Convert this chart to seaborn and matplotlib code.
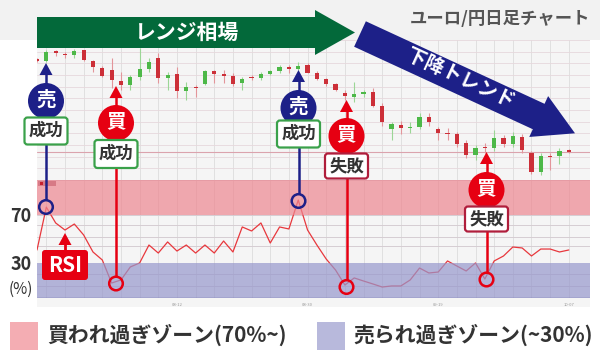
import numpy as np
import pandas as pd
import matplotlib
matplotlib.use("Agg")
import matplotlib.pyplot as plt
import seaborn as sns
from matplotlib.patches import Rectangle, Polygon, Circle, FancyBboxPatch

# ---------------- data ----------------
candle_idx = list(range(58))
opens = [144.05, 143.93, 144.85, 144.6, 144.5, 145.0, 143.93, 143.23, 143.0, 141.9,
         141.5, 142.27, 143.1, 144.17, 142.17, 142.57, 140.93, 141.3, 141.6, 142.9,
         142.55, 142.4, 141.67, 142.28, 142.17, 142.63, 142.9, 143.27, 143.13, 143.47,
         142.73, 142.07, 141.6, 140.73, 140.33, 140.65, 140.82, 139.43, 137.08, 137.5,
         137.2, 137.3, 138.33, 137.07, 136.72, 136.62, 135.67, 134.5, 135.3, 135.2,
         136.22, 135.62, 136.33, 134.73, 132.83, 134.4, 134.37, 134.95]
closes = [143.95, 144.83, 144.75, 144.5, 144.9, 144.0, 143.33, 142.43, 142.0, 141.5,
          142.27, 143.07, 143.83, 142.17, 142.5, 140.93, 141.33, 141.2, 142.9, 142.57,
          142.45, 141.65, 142.1, 142.18, 142.57, 142.9, 143.3, 143.07, 143.4, 142.75,
          142.08, 141.58, 141.0, 140.37, 140.63, 140.77, 139.45, 137.77, 137.57, 137.17,
          137.33, 138.33, 137.83, 136.73, 136.62, 135.6, 134.53, 135.17, 135.2, 136.22,
          135.63, 136.37, 135.03, 132.83, 134.37, 134.3, 134.87, 134.85]
highs = [144.2, 145.0, 145.0, 144.8, 145.1, 145.05, 144.0, 143.4, 144.2, 142.8,
         142.5, 145.17, 144.2, 144.7, 142.83, 143.33, 141.83, 141.5, 143.0, 143.0,
         143.0, 142.7, 142.3, 142.5, 142.8, 143.0, 143.5, 143.5, 143.8, 143.7,
         142.9, 142.2, 141.7, 141.0, 141.83, 141.0, 141.2, 139.7, 137.8, 137.9,
         137.8, 138.7, 138.7, 137.3, 137.2, 136.83, 136.0, 135.5, 135.7, 137.0,
         136.5, 136.8, 136.6, 134.9, 134.7, 134.7, 135.2, 135.1]
lows = [143.8, 143.8, 144.4, 144.2, 144.2, 143.95, 142.83, 142.3, 141.2, 141.0,
        141.0, 142.0, 142.8, 141.7, 141.0, 140.17, 140.0, 140.33, 141.5, 141.7,
        141.7, 141.4, 141.0, 142.0, 142.0, 142.5, 142.7, 142.7, 143.0, 142.7,
        142.0, 141.4, 140.9, 140.0, 139.8, 140.3, 139.3, 137.4, 136.0, 136.6,
        136.7, 137.1, 137.4, 136.0, 136.0, 135.3, 134.2, 134.0, 134.7, 134.9,
        135.3, 135.3, 134.7, 132.6, 132.5, 133.0, 133.6, 134.7]
rsi = [40.7, 77, 63.6, 57.6, 62.7, 53.4, 39, 32.2, 12.7, 15.3,
       26.3, 29.7, 44.9, 38.1, 47.5, 39.8, 44.9, 38.1, 44.9, 38.1,
       48.3, 39, 60.2, 56.8, 63.6, 46.6, 60.2, 58.5, 83, 57.6,
       44.9, 33, 23.7, 11, 17, 14.4, 11.9, 9.3, 10.2, 10.2,
       15.3, 25.4, 21.2, 22, 31.4, 27.1, 22.9, 29.7, 16.1, 31.4,
       35.6, 43.2, 42.4, 35.6, 41.5, 41.5, 39, 40.7]
date_labels = ["08-12", "08-30", "09-19", "10-07"]
date_idx = [15, 29, 43, 57]
overbought = 70
oversold = 30
title = "ユーロ/円日足チャート"
range_label = "レンジ相場"
trend_label = "下降トレンド"
legend_labels = ["買われ過ぎゾーン(70%~)", "売られ過ぎゾーン(~30%)"]

# ---------------- style ----------------
sns.set_theme(style="white")
plt.rcParams["font.family"] = ["Noto Sans CJK JP", "DejaVu Sans"]

GREEN_C = "#4db848"
RED_C = "#cc2f38"
NAVY = "#1d2088"
RED = "#e60012"
DGREEN = "#03693a"
PINK_BAND = "#ed8690"
BLUE_BAND = "#9697cc"
TXT = "#333333"

W, H = 600, 360
fig = plt.figure(figsize=(6, 3.6), dpi=100, facecolor="white")


def rect(x0, y0, x1, y1):
    return [x0 / W, 1 - y1 / H, (x1 - x0) / W, (y1 - y0) / H]


# background layer (pixel coordinates)
bg = fig.add_axes([0, 0, 1, 1])
bg.set_xlim(0, W); bg.set_ylim(H, 0); bg.axis("off"); bg.set_zorder(0)
bg.add_patch(Rectangle((0, 0), 600, 40, color="#f2f2f2", lw=0))
bg.add_patch(Rectangle((37, 40), 553, 267, color="#f5f5f5", lw=0))

XMAX = 553 / 9.33
axp = fig.add_axes(rect(37, 40, 590, 180)); axp.set_zorder(1)
axr = fig.add_axes(rect(37, 180, 590, 298)); axr.set_zorder(1)
for a in (axp, axr):
    a.set_facecolor("none")
    a.set_xlim(0, XMAX)
    a.set_xticks([]); a.set_yticks([])
    for s in a.spines.values():
        s.set_visible(False)
    for i in range(1, 58, 2):
        a.axvline(i, color="#dcdcdc", lw=0.6, zorder=0)

# ---- price panel ----
axp.set_ylim(132.0, 146.0)
for p in np.arange(133.16, 146, 1.167):
    axp.axhline(p, color="#e6d8dc", lw=0.6, zorder=0)
axp.axhline(closes[-1], color="#dba3ad", lw=0.8, zorder=0)

df = pd.DataFrame({"i": candle_idx, "open": opens, "close": closes,
                   "high": highs, "low": lows})
up = df["close"] >= df["open"]
cols = np.where(up, GREEN_C, RED_C)
wick_cols = np.where(up, "#9bd696", "#e3959a")
axp.vlines(df["i"], df["low"], df["high"], colors=wick_cols, lw=0.8, zorder=2)
body_bottom = np.minimum(df["open"], df["close"])
body_h = np.maximum((df["close"] - df["open"]).abs(), 0.12)
axp.bar(df["i"], body_h, bottom=body_bottom, width=0.45, color=cols,
        linewidth=0, zorder=3)

# ---- RSI panel ----
axr.set_ylim(0, 100)
for g in [10, 20, 44, 52, 62, 70, 100]:
    axr.axhline(g, color="#d6cdd2", lw=0.7, zorder=0)
sns.lineplot(x=candle_idx, y=rsi, ax=axr, color="#e8383d", lw=0.9, zorder=2)
axr.axhspan(overbought, 100, color=PINK_BAND, alpha=0.7, lw=0, zorder=3)
axr.axhspan(0, oversold, color=BLUE_BAND, alpha=0.7, lw=0, zorder=3)
axr.axhline(0, color="#6d6daa", lw=1.0, zorder=4)
axr.set_xlabel(""); axr.set_ylabel("")

# date labels under the RSI panel
for lab, i in zip(date_labels, date_idx):
    axr.text(i, -4, lab, fontsize=3, color="#999999", ha="center", va="top",
             clip_on=False)

# ---------------- overlay (pixel coordinates) ----------------
ov = fig.add_axes([0, 0, 1, 1])
ov.set_xlim(0, W); ov.set_ylim(H, 0); ov.axis("off"); ov.set_zorder(3)
ov.patch.set_alpha(0)

# title
ov.text(590, 19, title, fontsize=12.5, fontweight="bold", color="#555555",
        ha="right", va="center")

# green range arrow
ov.add_patch(Polygon([(37, 17), (315, 17), (315, 10), (355, 32.5), (315, 55),
                      (315, 48), (37, 48)], closed=True, color=DGREEN, lw=0, zorder=2))
ov.text(187, 32, range_label, fontsize=15, fontweight="bold", color="white",
        ha="center", va="center", zorder=3)

# navy trend arrow
S = np.array([360.0, 34.0]); T = np.array([575.0, 133.3])
u = (T - S) / np.linalg.norm(T - S)
n = np.array([-u[1], u[0]])
B = T - 40 * u
pts = [S - 14 * n, B - 14 * n, B - 22.5 * n, T, B + 22.5 * n, B + 14 * n, S + 14 * n]
ov.add_patch(Polygon(pts, closed=True, color=NAVY, lw=0, zorder=4))
ang = -np.degrees(np.arctan2(u[1], u[0]))
ov.text(460, 79, trend_label, fontsize=14, fontweight="bold", color="white",
        rotation=ang, rotation_mode="anchor", ha="center", va="center", zorder=5)


def signal(x, tip, cy, box_cy, box_h, ring_y, color, char, result, border):
    # vertical line + arrowhead
    ov.plot([x, x], [tip + 10, ring_y - 7], color=color, lw=1.8, zorder=6,
            solid_capstyle="butt")
    ov.add_patch(Polygon([(x - 6.5, tip + 12), (x + 6.5, tip + 12), (x, tip)],
                         closed=True, color=color, lw=0, zorder=6))
    ov.add_patch(Circle((x, cy), 18, color=color, lw=0, zorder=7))
    ov.text(x, cy - 1, char, fontsize=14, fontweight="bold", color="white",
            ha="center", va="center", zorder=8)
    ov.add_patch(FancyBboxPatch((x - 19.5, box_cy - box_h / 2 + 2), 39, box_h - 4,
                                boxstyle="round,pad=2,rounding_size=3",
                                fc="white", ec=border, lw=1.6, zorder=8))
    ov.text(x, box_cy, result, fontsize=12.5, fontweight="bold", color=TXT,
            ha="center", va="center", zorder=9)
    ov.add_patch(Circle((x, ring_y), 6.8, fc="none", ec=color, lw=1.8, zorder=6))


signal(46, 63, 101, 131, 27, 207, NAVY, "売", "成功", "#3aa14a")
signal(116, 86, 123, 154, 28, 283.5, RED, "買", "成功", "#3aa14a")
signal(298.5, 70, 108, 134, 27, 201, NAVY, "売", "成功", "#3aa14a")
signal(346.5, 100, 136, 166, 25, 287, RED, "買", "失敗", "#b01e3c")
signal(486.5, 152, 190, 219, 25, 279.5, RED, "買", "失敗", "#b01e3c")

# RSI label
ov.plot([65, 65], [244, 251], color=RED, lw=2, zorder=6)
ov.add_patch(Polygon([(58.5, 245), (71.5, 245), (65, 233)], closed=True,
                     color=RED, lw=0, zorder=6))
ov.add_patch(FancyBboxPatch((44, 252), 42, 26, boxstyle="round,pad=2,rounding_size=3",
                            fc=RED, ec="none", zorder=6))
ov.text(65, 265.5, "RSI", fontsize=15, fontweight="bold", color="white",
        ha="center", va="center", zorder=7)

# small tag in the overbought band
ov.add_patch(Rectangle((38, 181), 18, 5, color="#d77a86", lw=0, zorder=2))
ov.add_patch(Rectangle((39.5, 182), 3, 3, color="#c8202e", lw=0, zorder=2))

# left scale labels
ov.text(21, 217, str(overbought), fontsize=13, fontweight="bold", color=TXT,
        ha="center", va="center")
ov.text(21, 264, str(oversold), fontsize=13, fontweight="bold", color=TXT,
        ha="center", va="center")
ov.text(21, 289, "(%)", fontsize=11, color=TXT, ha="center", va="center")

# legend
ov.add_patch(Rectangle((10, 322), 28, 28, color="#f4adb3", lw=0))
ov.text(47, 335, legend_labels[0], fontsize=15, fontweight="bold", color=TXT,
        ha="left", va="center")
ov.add_patch(Rectangle((317, 322), 28, 28, color="#b8b9dc", lw=0))
ov.text(353, 335, legend_labels[1], fontsize=15, fontweight="bold", color=TXT,
        ha="left", va="center")

fig.savefig("out.png", dpi=100, facecolor="white")
